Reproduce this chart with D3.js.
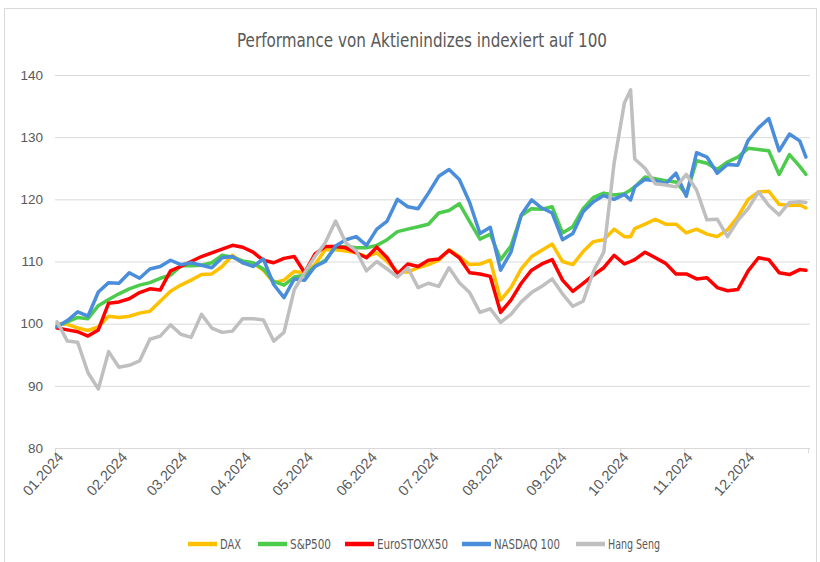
<!DOCTYPE html>
<html>
<head>
<meta charset="utf-8">
<script src="https://cdn.jsdelivr.net/npm/d3@7"></script>
<style>
  body { margin: 0; background: #fff; }
  .narrow { font-family: "Liberation Sans Narrow", "DejaVu Sans Condensed", "Roboto Condensed", "Liberation Sans", sans-serif; font-stretch: condensed; }
</style>
</head>
<body>
<div id="chart"></div>
<script>
// trading days sampled (2024)
const dates = ["01-02","01-07","01-12","01-17","01-22","01-27","02-01","02-06","02-11","02-16","02-21","02-26",
  "03-02","03-07","03-12","03-17","03-22","03-27","04-01","04-06","04-11","04-16","04-21","04-26",
  "05-01","05-06","05-11","05-16","05-21","05-26","05-31","06-05","06-10","06-15","06-20","06-25",
  "06-30","07-05","07-10","07-15","07-20","07-25","07-30","08-04","08-09","08-14","08-19","08-24",
  "08-29","09-03","09-08","09-13","09-18","09-23","09-28","10-03","10-06","10-08","10-13","10-18",
  "10-23","10-28","11-02","11-07","11-12","11-17","11-22","11-27","12-02","12-07","12-12","12-17",
  "12-22","12-27","12-30"];

const dax = [100, 99.9, 99.3, 98.9, 99.5, 101.2, 101.0, 101.2, 101.7, 102.0, 103.6, 105.2,
  106.2, 107.0, 107.9, 108.0, 109.2, 111.0, 109.8, 109.7, 108.6, 106.6, 107.0, 108.4,
  108.2, 109.5, 111.9, 111.9, 111.7, 111.4, 110.8, 111.4, 110.0, 108.3, 108.3, 109.0,
  109.5, 110.2, 111.9, 110.8, 109.5, 109.6, 110.2, 103.8, 105.8, 108.8, 110.8, 111.8,
  112.8, 110.0, 109.5, 111.6, 113.2, 113.5, 115.2, 114.0, 114.0, 115.3, 116.0, 116.8,
  116.0, 116.0, 114.6, 115.2, 114.4, 114.0, 115.1, 117.2, 120.0, 121.2, 121.3, 119.2,
  119.0, 119.1, 118.6];

const sp500 = [99.6, 100.3, 101.0, 100.8, 102.9, 103.9, 104.8, 105.6, 106.2, 106.6, 107.3, 107.8,
  109.3, 109.3, 109.4, 109.8, 111.0, 110.7, 110.1, 109.8, 108.8, 106.8, 106.2, 107.5,
  107.8, 109.2, 110.2, 112.3, 112.4, 112.2, 112.2, 112.6, 113.5, 114.8, 115.2, 115.6,
  116.0, 117.8, 118.2, 119.3, 116.4, 113.6, 114.4, 110.3, 112.5, 117.4, 118.5, 118.4,
  118.8, 114.6, 115.6, 118.5, 120.3, 121.0, 120.7, 120.9, 121.5, 122.0, 123.6, 123.3,
  123.0, 122.8, 120.8, 126.2, 125.8, 124.8, 126.0, 126.8, 128.2, 128.0, 127.8, 124.0,
  127.2, 125.3, 124.0];

const eurostoxx = [99.3, 99.0, 98.7, 98.0, 99.0, 103.3, 103.5, 104.0, 105.0, 105.6, 105.4, 108.5,
  109.2, 110.0, 110.8, 111.4, 112.0, 112.6, 112.3, 111.5, 110.2, 109.8, 110.5, 110.8,
  108.2, 111.2, 112.4, 112.4, 112.2, 111.4, 110.6, 112.3, 110.6, 108.0, 109.6, 109.2,
  110.2, 110.4, 111.8, 110.6, 108.2, 108.0, 107.6, 101.8, 103.8, 106.5, 108.6, 109.6,
  110.3, 107.0, 105.2, 106.5, 107.8, 109.0, 111.0, 109.6, 110.0, 110.3, 111.5, 110.6,
  109.7, 108.0, 108.0, 107.2, 107.4, 105.8, 105.3, 105.5, 108.5, 110.6, 110.3, 108.2,
  107.9, 108.7, 108.6];

const nasdaq = [99.5, 100.5, 101.9, 101.2, 105.1, 106.6, 106.5, 108.2, 107.3, 108.8, 109.2, 110.2,
  109.5, 109.8, 109.4, 109.0, 110.6, 110.8, 109.8, 109.2, 110.4, 106.3, 104.2, 107.2,
  107.0, 109.2, 110.0, 112.5, 113.5, 114.0, 112.6, 115.2, 116.5, 120.0, 118.8, 118.5,
  121.0, 123.7, 124.8, 123.2, 119.5, 114.5, 115.5, 108.6, 111.5, 117.5, 119.9, 118.6,
  117.8, 113.5, 114.5, 118.0, 119.6, 120.6, 120.0, 120.8, 119.9, 122.0, 123.2, 123.0,
  122.5, 124.2, 120.5, 127.5, 126.8, 124.2, 125.6, 125.5, 129.5, 131.5, 133.0, 127.8,
  130.5, 129.4, 126.8];

const hangSeng = [100.3, 97.2, 97.0, 92.1, 89.5, 95.5, 93.0, 93.3, 94.0, 97.5, 98.0, 99.8,
  98.3, 97.8, 101.5, 99.3, 98.6, 98.8, 100.8, 100.8, 100.6, 97.2, 98.6, 105.5,
  108.2, 110.8, 113.0, 116.5, 113.0, 111.7, 108.5, 110.0, 108.8, 107.5, 109.0, 105.8,
  106.5, 106.0, 109.0, 106.6, 105.0, 101.8, 102.4, 100.2, 101.5, 103.5, 105.0, 106.0,
  107.2, 104.8, 102.8, 103.6, 108.4, 111.5, 125.8, 135.5, 137.6, 126.5, 125.0, 122.5,
  122.3, 122.0, 124.0, 121.5, 116.7, 116.8, 114.0, 116.6, 118.5, 121.2, 119.0, 117.5,
  119.5, 119.6, 119.5];

const seriesNames = ["DAX", "S&P500", "EuroSTOXX50", "NASDAQ 100", "Hang Seng"];
const seriesValues = [dax, sp500, eurostoxx, nasdaq, hangSeng];
const colors = ["#FFC000", "#4CCB4C", "#FF0000", "#4A8DDA", "#BFBFBF"];
const yTicks = [80, 90, 100, 110, 120, 130, 140];

const width = 820, height = 562;
const margin = { top: 75, right: 12, bottom: 114, left: 55 };

const parse = d3.timeParse("%Y-%m-%d");
const dateObjs = dates.map(d => parse("2024-" + d));

const svg = d3.select("#chart")
  .append("svg")
  .attr("width", width)
  .attr("height", height);

// chart frame
svg.append("rect")
  .attr("x", 4.5).attr("y", 8.5)
  .attr("width", 812).attr("height", 560)
  .attr("fill", "#fff")
  .attr("stroke", "#d9d9d9");

const x = d3.scaleTime()
  .domain([new Date(2024, 0, 1), new Date(2024, 11, 31)])
  .range([margin.left, 808]);

const y = d3.scaleLinear()
  .domain([80, 140])
  .range([height - margin.bottom, margin.top]);

// title
svg.append("text")
  .attr("class", "narrow")
  .attr("x", 422).attr("y", 47)
  .attr("text-anchor", "middle")
  .attr("font-size", 20)
  .attr("fill", "#595959")
  .attr("textLength", 370)
  .attr("lengthAdjust", "spacingAndGlyphs")
  .text("Performance von Aktienindizes indexiert auf 100");

// gridlines + y labels
const yAxis = svg.append("g")
  .attr("transform", `translate(${margin.left},0)`)
  .call(d3.axisLeft(y).tickValues(yTicks).tickSize(-(810 - margin.left)).tickPadding(12));
yAxis.select(".domain").remove();
yAxis.selectAll("line").attr("stroke", "#d9d9d9");
yAxis.selectAll("text")
  .attr("fill", "#595959")
  .attr("font-size", 13.5)
  .attr("font-family", "Liberation Sans, Arial, sans-serif");

// x axis
const months = d3.timeMonth.range(new Date(2024, 0, 1), new Date(2025, 0, 1));
const xAxis = svg.append("g")
  .attr("transform", `translate(0,${y(80)})`)
  .call(d3.axisBottom(x).tickValues(months).tickFormat(d3.timeFormat("%m.%Y")).tickSize(5));
xAxis.select(".domain").attr("stroke", "#d9d9d9");
xAxis.selectAll("line").attr("stroke", "#d9d9d9");
xAxis.selectAll("text")
  .attr("fill", "#595959")
  .attr("font-size", 14.5)
  .attr("font-family", "Liberation Sans, Arial, sans-serif")
  .attr("text-anchor", "end")
  .attr("dy", "0.35em")
  .attr("transform", "translate(-1,1) rotate(-48)");

// lines
const line = d3.line()
  .x((d, i) => x(dateObjs[i]))
  .y(d => y(d));

svg.append("g")
  .selectAll("path")
  .data(seriesValues)
  .join("path")
  .attr("d", d => line(d))
  .attr("fill", "none")
  .attr("stroke", (d, i) => colors[i])
  .attr("stroke-width", 3.5)
  .attr("stroke-linejoin", "round")
  .attr("stroke-linecap", "round");

// legend
const legendX = [188, 258, 345, 462, 576];
const legendW = [21, 41, 71, 66, 52];
const legend = svg.append("g").attr("transform", "translate(0,544)");
const items = legend.selectAll("g")
  .data(seriesNames)
  .join("g")
  .attr("transform", (d, i) => `translate(${legendX[i]},0)`);
items.append("line")
  .attr("x1", 0).attr("x2", 29)
  .attr("stroke", (d, i) => colors[i])
  .attr("stroke-width", 4.5);
items.append("text")
  .attr("class", "narrow")
  .attr("x", 32)
  .attr("dy", "0.35em")
  .attr("font-size", 14)
  .attr("fill", "#595959")
  .attr("textLength", (d, i) => legendW[i])
  .attr("lengthAdjust", "spacingAndGlyphs")
  .text(d => d);
</script>
</body>
</html>
